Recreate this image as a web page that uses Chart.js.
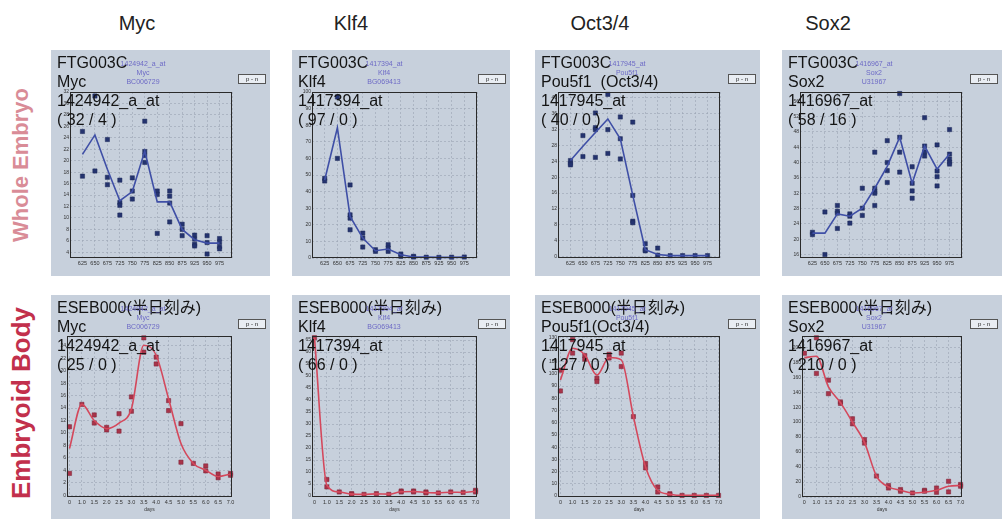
<!DOCTYPE html>
<html>
<head>
<meta charset="utf-8">
<script src="https://cdn.jsdelivr.net/npm/chart.js@4.4.1/dist/chart.umd.min.js"></script>
<style>
body{margin:0;width:1002px;height:519px;background:#fff;position:relative;overflow:hidden;font-family:'Liberation Sans',Arial,'Noto Sans CJK JP',sans-serif;}
.panel{position:absolute;background:#c7d0dc;}
canvas{position:absolute;left:0;top:0;}
.t{position:absolute;white-space:pre;color:#141414;font-size:16px;line-height:19px;z-index:5;}
.s{position:absolute;white-space:pre;color:#6d6ac6;font-size:7px;line-height:9px;text-align:center;width:60px;z-index:5;}
.pn{position:absolute;border:1px solid #555;background:#e9edf3;font-size:6px;line-height:8px;width:26px;text-align:center;color:#222;z-index:5;}
.col{position:absolute;top:12px;font-size:20px;color:#222;transform:translateX(-50%);}
.row{position:absolute;white-space:nowrap;font-weight:bold;transform:translate(-50%,-50%) rotate(-90deg);}
</style>
</head>
<body>
<div class="col" style="left:137px">Myc</div>
<div class="col" style="left:351px">Klf4</div>
<div class="col" style="left:600px">Oct3/4</div>
<div class="col" style="left:828px">Sox2</div>
<div class="row" style="left:21px;top:165px;font-size:22px;color:#d98c97">Whole Embryo</div>
<div class="row" style="left:21px;top:403px;font-size:26px;color:#c2304c">Embryoid Body</div>
<div id="root"></div>
<script>
// 発現データ (Whole Embryo: FTG003C, Embryoid Body: ESEB000)
const weLabels = ['625','650','675','725','750','775','825','850','875','925','950','975'];
const ebLabels = ['0','1.0','1.5','2.0','2.5','3.0','3.5','4.0','4.5','5.0','5.5','6.0','6.5','7.0'];

const mycWePts = [[25.1,17.3],[31.3,18.2],[23.7,17.1,15.8],[16.6,12.7,12.2,10.5],[17,14.7,13.3],[26.9,21.6,20.9,19.7],[14.7,14.1,7.3],[14.7,13.8,12.6,9.3],[8.9,8,6.9],[7,6.3,5.4,5.1],[6.9,5.7,3.7],[6.4,5.8,5.0,4.6]];
const mycWeLine = [21.1,24.5,18.5,13.0,14.6,21.7,12.8,12.8,8.0,6.2,5.6,5.6];
const klf4WePts = [[48,46.4],[97,60],[44,26,24,17],[15,12,6.6],[5,4],[8,6,4],[2.4,1],[1,0.6],[0.5],[0.4],[0.5],[0.6]];
const klf4WeLine = [47,78.5,25,12,4.4,5.4,2,0.6,0.5,0.4,0.4,0.5];
const oct4WePts = [[24.2,23.5,23.1],[30.5,25.2],[36.2,32.5,32,25],[40.9,32,26],[35.2,29.7,24.6],[33.9,15.4,8.9,8.5],[3.2,1.7,1.4],[2.1,0.3],[0.2],[0.2],[0.2],[0.2]];
const oct4WeLine = [24.2,27.8,31.3,34.7,29.7,15.4,1.7,0.5,0.2,0.2,0.2,0.2];
const sox2WePts = [[21.8,21.2],[27.1,16],[28.8,27.3,26.8,22.8],[26.6,26,24.2],[33.3,28.1,26.2],[42.7,33.3,32.5,32,28.8],[45.7,40,37.9,34.8],[58,46.6,42.7,37.5],[38.9,34.6,32.6,30.7],[51.7,44.3,42.8,41.7],[44.6,37.8,36.3,33.9],[48.6,42.2,40.9,40.1,39.6]];
const sox2WeLine = [21.6,21.6,26.6,26,28.1,33.3,39,46.6,34.6,44.3,38.3,42.2];

const mycEbPts = [[11,3.5],[14.6],[12.9,11.6],[10.9,10.5],[13.1,10.3],[15.8,13.5],[25.3,23],[22.2,21.1],[15.2,13.6],[11.5,5.3],[5.1],[4.7,3.9],[3.4,2.8],[3.5,3.2]];
const mycEbLine = [7.5,14.6,12,10.7,11.6,13.9,24.1,22.5,15.5,8.3,5.1,4.0,3.0,3.4];
const klf4EbPts = [[66],[6.9,3.8],[1.7],[1,0.7],[0.7],[1],[0.7],[2.1,1.7],[2.1,1.7],[1.7,1.3],[1.3],[1.7],[1.5],[2.4,1.7]];
const klf4EbLine = [66,4.5,1.7,0.8,0.7,0.9,0.8,1.8,1.9,1.5,1.3,1.6,1.5,2];
const oct4EbPts = [[103,86],[128,117],[115,112],[96.4,93.7],[116,113],[117,106],[65],[26.6,23],[7.4,3.3],[1.9,1.1],[0.5],[0.5],[0.5],[0.5]];
const oct4EbLine = [95,121,115.6,99,113.4,111.5,65,23.8,4.7,1.5,0.5,0.5,0.5,0.5];
const sox2EbPts = [[192],[212.6,165],[156,138],[127,125],[104.5,97.7],[76.6,72],[28],[15.3,12],[10,7.7],[5.4],[9,7.7],[12,6.3],[21,6.8],[16.7,14.4]];
const sox2EbLine = [186,188,147,126,100,73,28,13.5,9,5.4,6.3,9,14.4,15.3];

// 軸範囲と目盛り
const weYMin = [3, 0, -0.4, 15.1];
const weYMax = [32, 100, 41.5, 58.4];
const weYStep = [2, 5, 2, 2];
const ebYMin = [-0.3, -0.4, -0.8, 0];
const ebYMax = [25.6, 66.7, 131, 215];
const ebYStep = [2, 5, 10, 10];

// パネル表記
const geneTop = ['Myc', 'Klf4', 'Pou5f1  (Oct3/4)', 'Sox2'];
const geneBot = ['Myc', 'Klf4', 'Pou5f1(Oct3/4)', 'Sox2'];
const probes = ['1424942_a_at', '1417394_at', '1417945_at', '1416967_at'];
const smallGene = ['Myc', 'Klf4', 'Pou5f1', 'Sox2'];
const accessions = ['BC006729', 'BG069413', '', 'U31967'];
const rangeTop = ['( 32 / 4 )', '( 97 / 0 )', '( 40 / 0 )', '( 58 / 16 )'];
const rangeBot = ['( 25 / 0 )', '( 66 / 0 )', '( 127 / 0 )', '( 210 / 0 )'];

// レイアウト
const W = 1002, H = 519;
const panelX = [[51,270],[292,510],[535,760],[782,1002]];
const topBox = [[70,232],[312,477],[558,720],[800,962]];
const botBox = [[67,232],[312,477],[558,720],[802,962]];
const root = document.getElementById('root');

const frame = {
    id: 'frame',
    afterDraw(c) {
        const a = c.chartArea, ctx = c.ctx;
        ctx.save();
        ctx.strokeStyle = '#2a2a2a';
        ctx.lineWidth = 1;
        ctx.strokeRect(Math.round(a.left) + 0.5, Math.round(a.top) + 0.5, Math.round(a.width) - 1, Math.round(a.height) - 1);
        ctx.restore();
    }
};

function addDiv(cls, x, y, text) {
    const d = document.createElement('div');
    d.className = cls;
    d.style.left = x + 'px';
    d.style.top = y + 'px';
    d.textContent = text;
    root.appendChild(d);
}

function drawPanel(i, row) {
    const isTop = row === 0;
    const px = panelX[i];
    const box = isTop ? topBox[i] : botBox[i];
    const yTop = isTop ? 92 : 336;
    const yBot = isTop ? 258 : 497;
    const off = isTop ? 0 : 245;

    // 背景
    const bg = document.createElement('div');
    bg.className = 'panel';
    bg.style.left = px[0] + 'px';
    bg.style.width = (px[1] - px[0]) + 'px';
    bg.style.top = (isTop ? 50 : 295) + 'px';
    bg.style.height = (isTop ? 226 : 224) + 'px';
    root.appendChild(bg);

    const cv = document.createElement('canvas');
    cv.width = W; cv.height = H;
    root.appendChild(cv);

    const labels = isTop ? weLabels : ebLabels;
    const pts = [mycWePts, klf4WePts, oct4WePts, sox2WePts, mycEbPts, klf4EbPts, oct4EbPts, sox2EbPts][i + row * 4];
    const line = [mycWeLine, klf4WeLine, oct4WeLine, sox2WeLine, mycEbLine, klf4EbLine, oct4EbLine, sox2EbLine][i + row * 4];
    const scatter = [];
    pts.forEach((arr, k) => arr.forEach(v => scatter.push({ x: k, y: v })));

    const lineColor = isTop ? '#3f4fa6' : '#d4485c';
    const dotColor = isTop ? '#24336f' : '#a8344a';
    const dotBorder = isTop ? '#1c2858' : '#7a1f33';
    const xh = isTop ? 10 : 16;
    const yw = 12;

    new Chart(cv, {
        type: 'scatter',
        data: {
            datasets: [
                {
                    data: line.map((v, k) => ({ x: k, y: v })),
                    showLine: true,
                    borderColor: lineColor,
                    borderWidth: 1.6,
                    pointRadius: 0,
                    tension: isTop ? 0 : 0.4,
                    cubicInterpolationMode: isTop ? 'default' : 'monotone',
                    clip: 4
                },
                {
                    data: scatter,
                    pointStyle: 'rect',
                    pointRadius: 3,
                    backgroundColor: dotColor,
                    borderColor: dotBorder,
                    borderWidth: 0.5,
                    clip: 4
                }
            ]
        },
        options: {
            responsive: false,
            animation: false,
            events: [],
            layout: { padding: { left: box[0] - yw, right: W - box[1], top: yTop, bottom: H - yBot - xh } },
            plugins: { legend: { display: false }, tooltip: { enabled: false } },
            scales: {
                x: {
                    type: 'linear',
                    min: isTop ? -1 : -0.2,
                    max: isTop ? 12 : 13.12,
                    afterFit: s => { s.height = xh; },
                    grid: { color: '#9aa3b2', lineWidth: 0.6, drawTicks: false },
                    border: { display: false, dash: [2, 2] },
                    ticks: {
                        stepSize: 1, includeBounds: false, autoSkip: false, maxRotation: 0, padding: 2,
                        color: '#333', font: { size: 5.5, family: 'Liberation Sans Narrow, Liberation Sans' },
                        callback: v => labels[v] ?? ''
                    },
                    title: { display: !isTop, text: 'days', color: '#333', font: { size: 5 }, padding: 0 }
                },
                y: {
                    min: isTop ? weYMin[i] : ebYMin[i],
                    max: isTop ? weYMax[i] : ebYMax[i],
                    afterFit: s => { s.width = yw; },
                    grid: { color: '#9aa3b2', lineWidth: 0.6, drawTicks: false },
                    border: { display: false, dash: [2, 2] },
                    ticks: {
                        stepSize: isTop ? weYStep[i] : ebYStep[i], includeBounds: false, padding: 1,
                        color: '#333', font: { size: 5, family: 'Liberation Sans Narrow, Liberation Sans' }
                    }
                }
            }
        },
        plugins: [frame]
    });

    // 文字
    const tx = px[0] + 6;
    addDiv('t', tx, 53 + off, isTop ? 'FTG003C' : 'ESEB000(半日刻み)');
    addDiv('t', tx, 72 + off, isTop ? geneTop[i] : geneBot[i]);
    addDiv('t', tx, 91 + off, probes[i]);
    addDiv('t', tx, 110 + off, isTop ? rangeTop[i] : rangeBot[i]);
    addDiv('s', px[0] + 62, 59 + off, probes[i] + '\n' + smallGene[i] + '\n' + accessions[i]);
    addDiv('pn', px[1] - 32, 74 + off, 'p - n');
}

for (let r = 0; r < 2; r++) {
    for (let i = 0; i < 4; i++) drawPanel(i, r);
}
</script>
</body>
</html>
